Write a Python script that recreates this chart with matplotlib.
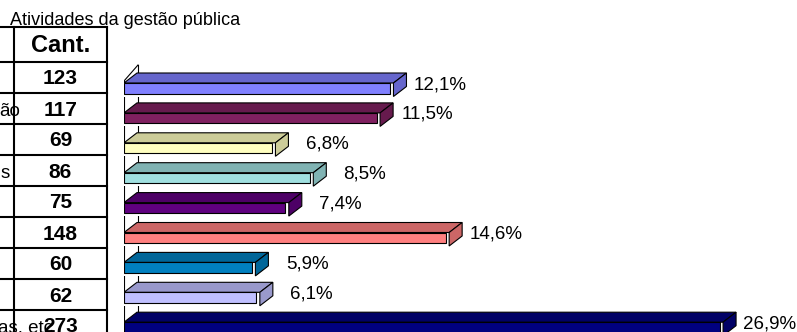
import matplotlib
matplotlib.use('Agg')
import matplotlib.pyplot as plt
from matplotlib.patches import Polygon, Rectangle

plt.rcParams['font.family'] = ['Liberation Sans', 'DejaVu Sans']

# ---------------- data ----------------
title = "Atividades da gestão pública"
count_header = "Cant."
counts = [123, 117, 69, 86, 75, 148, 60, 62, 273]
pct = [12.1, 11.5, 6.8, 8.5, 7.4, 14.6, 5.9, 6.1, 26.9]
pct_labels = ["12,1%", "11,5%", "6,8%", "8,5%", "7,4%", "14,6%", "5,9%", "6,1%", "26,9%"]
# visible (cropped) ends of the category names in the left table column
label_fragments = ["", "ão", "", "s", "", "", "", "", "as, etc"]
fragment_right = [0, 20.5, 0, 9.3, 0, 0, 0, 0, 53]

front_colors = ["#8080FF", "#802060", "#FFFFC0", "#A0E0E0", "#600080",
                "#FF8080", "#0080C0", "#C0C0FF", "#000080"]
dark_colors = ["#6666CC", "#661A4D", "#CCCC99", "#80B3B3", "#4D0066",
               "#CC6666", "#006699", "#9999CC", "#000066"]

# ---------------- layout ----------------
W, H = 797, 332
fig = plt.figure(figsize=(W / 100, H / 100), dpi=100)

# pixel-coordinate overlay for table and title
ov = fig.add_axes([0, 0, 1, 1])
ov.set_xlim(0, W)
ov.set_ylim(H, 0)
ov.axis('off')

# bar axes (x in %, y in category index)
x0_px = 124
px_per_pct = 22.27
row_px = 29.9
first_top_px = 83
ax = fig.add_axes([x0_px / W, 0, (W - x0_px) / W, 1])
ax.set_xlim(0, (W - x0_px) / px_per_pct)
ax.set_ylim((H - first_top_px) / row_px, -first_top_px / row_px)
ax.axis('off')

box_h = 13.5 / row_px
front_h = 10.5 / row_px
inset = 3.5 / px_per_pct
dx = 13 / px_per_pct
dy = 10 / row_px
lw = 0.8

# wall (value axis plane)
wall_top_front = -2 / row_px
wall_top_back = -18 / row_px
wx = 14 / px_per_pct
ymax = (H - first_top_px) / row_px + 1
ax.plot([0, 0], [wall_top_front, ymax], color='black', lw=lw, zorder=1)
ax.plot([wx, wx], [wall_top_back, ymax], color='black', lw=lw, zorder=1)
ax.plot([0, wx], [wall_top_front, wall_top_back], color='black', lw=lw, zorder=1)

for i, (v, fc, dc, lab) in enumerate(zip(pct, front_colors, dark_colors, pct_labels)):
    yt = i
    yb = i + box_h
    # white box front (gap)
    ax.add_patch(Rectangle((0, yt), v, box_h, facecolor='white', edgecolor='none', zorder=2))
    # top face
    ax.add_patch(Polygon([(0, yt), (dx, yt - dy), (v + dx, yt - dy), (v, yt)],
                         closed=True, facecolor=dc, edgecolor='black', lw=lw, zorder=3))
    # side face
    ax.add_patch(Polygon([(v, yt), (v + dx, yt - dy), (v + dx, yb - dy), (v, yb)],
                         closed=True, facecolor=dc, edgecolor='black', lw=lw, zorder=3))
    # coloured front face
    ax.add_patch(Rectangle((0, yt), v - inset, front_h, facecolor=fc,
                           edgecolor='black', lw=lw, zorder=4))
    ax.annotate(lab, xy=(v + dx, yt), xytext=(60, -6), textcoords='offset pixels',
                ha='right', va='baseline', fontsize=13.5, color='black', zorder=5)

# ---------------- table ----------------
top_line = 27
hdr_bottom = 62
tbl_row = 31
tlw = 1.5
ov.plot([0, 107], [top_line, top_line], color='black', lw=tlw)
for k in range(len(counts)):
    yl = hdr_bottom + tbl_row * k
    ov.plot([0, 107], [yl, yl], color='black', lw=tlw)
ov.plot([14, 14], [top_line, H + 5], color='black', lw=tlw)
ov.plot([107, 107], [top_line, H + 5], color='black', lw=tlw)

ov.text(61, (top_line + hdr_bottom) / 2 + 7.5, count_header, ha='center', va='baseline',
        fontsize=17, fontweight='bold')
for k, c in enumerate(counts):
    yc = hdr_bottom + tbl_row * k + tbl_row / 2
    if label_fragments[k]:
        ov.text(fragment_right[k], yc + 7, label_fragments[k], ha='right', va='baseline',
                fontsize=13.5, zorder=2)
    ov.text(60.5, yc + 7, str(c), ha='center', va='baseline', fontsize=15,
            fontweight='bold', zorder=3)

ov.text(10, 25, title, ha='left', va='baseline', fontsize=13)

fig.savefig('out.png', dpi=100)
